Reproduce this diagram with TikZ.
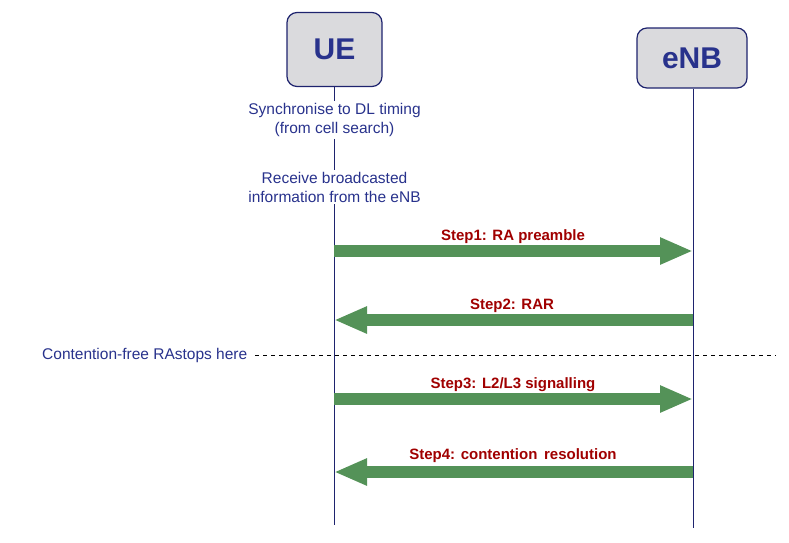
\documentclass[tikz,border=0pt]{standalone}
\usepackage{fontspec}
\setmainfont{Liberation Sans}
\usetikzlibrary{arrows.meta}
\definecolor{navytext}{RGB}{40,50,140}
\definecolor{boxborder}{RGB}{30,35,110}
\definecolor{boxfill}{RGB}{218,218,221}
\definecolor{msggreen}{RGB}{84,146,88}
\definecolor{steplabel}{RGB}{160,0,0}
\tikzset{
  entity/.style={draw=boxborder, fill=boxfill, line width=1.2pt, rounded corners=10pt,
    text=navytext, font=\fontsize{30}{32}\selectfont\bfseries, inner sep=0pt},
  lifeline/.style={draw=boxborder, line width=0.9pt},
  note/.style={text=navytext, font=\fontsize{15.5}{19}\selectfont, align=center, inner sep=2pt},
  msg/.style={draw=msggreen, line width=12pt, -{Triangle[length=33pt,width=25pt]}},
  steptext/.style={text=steplabel, font=\fontsize{15}{17}\selectfont\bfseries, inner sep=0pt},
  divider/.style={draw=black, line width=0.6pt, dash pattern=on 4pt off 4pt}
}
\begin{document}
\begin{tikzpicture}[x=1pt,y=-1pt]
\useasboundingbox (0,0) rectangle (789,542);
% entities
\node[entity, minimum width=95pt, minimum height=74pt] (ue) at (334.5,49.5) {UE};
\node[entity, minimum width=110pt, minimum height=60pt] (enb) at (692,58) {eNB};
% UE notes
\node[note] (sync) at (334.5,120) {Synchronise to DL timing\\(from cell search)};
\node[note] (recv) at (334.5,187) {Receive broadcasted\\information from the eNB};
% lifeline ends
\coordinate (ueend) at (334,525);
\coordinate (enbend) at (693,528);
\draw[lifeline] (ue.south -| ueend) -- (sync.north -| ueend);
\draw[lifeline] (sync.south -| ueend) -- (recv.north -| ueend);
\draw[lifeline] (recv.south -| ueend) -- (ueend);
\draw[lifeline] (enb.south -| enbend) -- (enbend);
% message anchor points
\coordinate (u1) at (334,251); \coordinate (e1) at (693,251);
\coordinate (u2) at (334,320); \coordinate (e2) at (693,320);
\coordinate (u3) at (334,399); \coordinate (e3) at (693,399);
\coordinate (u4) at (334,472); \coordinate (e4) at (693,472);
\draw[msg] (u1) -- (e1);
\draw[msg] (e2) -- (u2);
\draw[msg] (u3) -- (e3);
\draw[msg] (e4) -- (u4);
\node[steptext] (s1) at (513,237) {Step1: RA preamble};
\node[steptext] (s2) at (512,306) {Step2: RAR};
\node[steptext] (s3) at (513,385) {Step3: L2/L3 signalling};
\node[steptext] (s4) at (513,456) {Step4: contention\, resolution};
% divider
\node[note, anchor=west, inner sep=0pt] (cf) at (42,355) {Contention-free RAstops here};
\coordinate (divend) at (776,355);
\draw[divider] ([xshift=8pt]cf.east) -- (divend);
\end{tikzpicture}
\end{document}
